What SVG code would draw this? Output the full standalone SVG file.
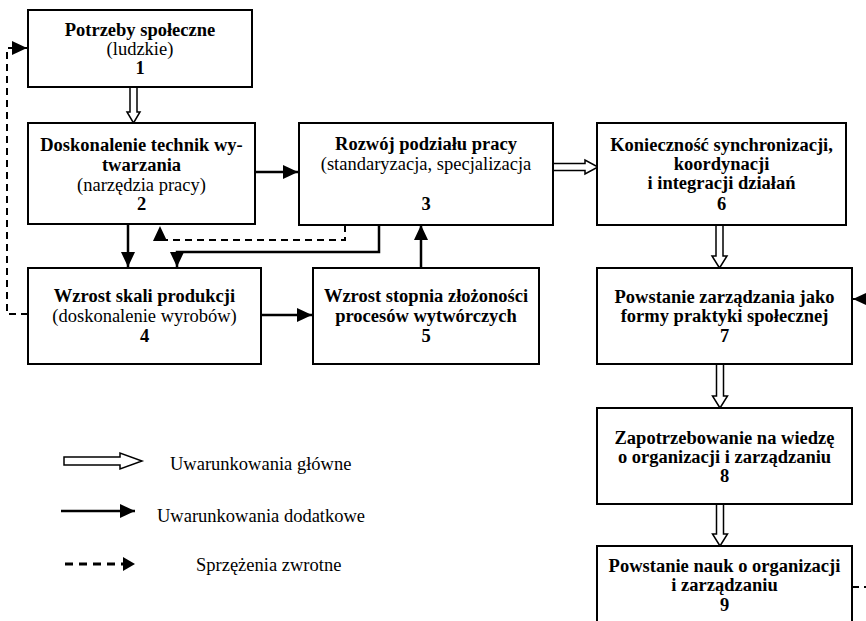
<svg xmlns="http://www.w3.org/2000/svg" width="866" height="621" viewBox="0 0 866 621">
<style>
.box{fill:#fff;stroke:#000;stroke-width:2}
text{font-family:"Liberation Serif","Times New Roman",serif;font-size:18.5px;fill:#000}
.c{text-anchor:middle}
.b{font-weight:bold}
.sl{fill:none;stroke:#000;stroke-width:2.5}
.ds{fill:none;stroke:#000;stroke-width:2;stroke-dasharray:7 5}
.hol{fill:#fff;stroke:#000;stroke-width:1.5;stroke-linejoin:miter}
</style>
<defs>
<marker id="ah" markerUnits="userSpaceOnUse" markerWidth="15" markerHeight="14" refX="15" refY="7" orient="auto">
<path d="M0,0 L15,7 L0,14 z" fill="#000"/>
</marker>
</defs>
<rect width="866" height="621" fill="#fff"/>

<g id="connectors">
<polygon class="hol" points="130,87 137,87 137,112 140,112 133.5,123 127,112 130,112"/>
<polygon class="hol" points="553,163.5 585,163.5 585,160 598,167 585,174 585,170.5 553,170.5"/>
<polygon class="hol" points="716,225 723,225 723,256 727,256 719.5,268 712,256 716,256"/>
<polygon class="hol" points="716.5,364 723.5,364 723.5,396 727.5,396 720,408 712.5,396 716.5,396"/>
<polygon class="hol" points="716.5,504 723.5,504 723.5,534 727.5,534 720,546 712.5,534 716.5,534"/>
<path class="sl" d="M255,172 H298" marker-end="url(#ah)"/>
<path class="sl" d="M128,225 V267" marker-end="url(#ah)"/>
<path class="sl" d="M379,225 V252 H177 V267" marker-end="url(#ah)"/>
<path class="sl" d="M421,268 V225" marker-end="url(#ah)"/>
<path class="sl" d="M261,315 H312" marker-end="url(#ah)"/>
<path class="ds" d="M345,225 V240 H160 V226" marker-end="url(#ah)"/>
<path class="ds" d="M28,314 H7 V48 H27" marker-end="url(#ah)"/>
<path class="ds" d="M852,587 H880 V299 H853" marker-end="url(#ah)"/>
</g>

<g id="n1">
<rect class="box" x="28" y="10" width="224" height="77"/>
<text class="c b" x="140" y="35.5">Potrzeby społeczne</text>
<text class="c" x="140" y="55">(ludzkie)</text>
<text class="c b" x="140" y="74">1</text>
</g>
<g id="n2">
<rect class="box" x="28" y="123" width="227" height="101"/>
<text class="c b" x="141.5" y="150.5">Doskonalenie technik wy-</text>
<text class="c b" x="141.5" y="170.5">twarzania</text>
<text class="c" x="141.5" y="191">(narzędzia pracy)</text>
<text class="c b" x="141.5" y="209.5">2</text>
</g>
<g id="n3">
<rect class="box" x="299" y="123" width="254" height="102"/>
<text class="c b" x="426" y="150">Rozwój podziału pracy</text>
<text class="c" x="426" y="170">(standaryzacja, specjalizacja</text>
<text class="c b" x="426" y="209.5">3</text>
</g>
<g id="n6">
<rect class="box" x="597" y="123" width="249" height="102"/>
<text class="c b" x="721.5" y="151">Konieczność synchronizacji,</text>
<text class="c b" x="721.5" y="170">koordynacji</text>
<text class="c b" x="721.5" y="189">i integracji działań</text>
<text class="c b" x="721.5" y="209.5">6</text>
</g>
<g id="n4">
<rect class="box" x="28" y="268" width="233" height="96"/>
<text class="c b" x="144.5" y="302">Wzrost skali produkcji</text>
<text class="c" x="144.5" y="321.5">(doskonalenie wyrobów)</text>
<text class="c b" x="144.5" y="341.5">4</text>
</g>
<g id="n5">
<rect class="box" x="313" y="268" width="226" height="96"/>
<text class="c b" x="426" y="302">Wzrost stopnia złożoności</text>
<text class="c b" x="426" y="321.5">procesów wytwórczych</text>
<text class="c b" x="426" y="341.5">5</text>
</g>
<g id="n7">
<rect class="box" x="597" y="268" width="255" height="96"/>
<text class="c b" x="724.5" y="302.5">Powstanie zarządzania jako</text>
<text class="c b" x="724.5" y="321.5">formy praktyki społecznej</text>
<text class="c b" x="724.5" y="341.5">7</text>
</g>
<g id="n8">
<rect class="box" x="597" y="408" width="255" height="96"/>
<text class="c b" x="724.5" y="444">Zapotrzebowanie na wiedzę</text>
<text class="c b" x="724.5" y="463">o organizacji i zarządzaniu</text>
<text class="c b" x="724.5" y="482">8</text>
</g>
<g id="n9">
<rect class="box" x="597" y="546" width="255" height="90"/>
<text class="c b" x="724.5" y="572">Powstanie nauk o organizacji</text>
<text class="c b" x="724.5" y="591">i zarządzaniu</text>
<text class="c b" x="724.5" y="611">9</text>
</g>

<g id="legend">
<polygon class="hol" points="64,457 120,457 120,453 142,461 120,469 120,465 64,465"/>
<text x="170" y="470">Uwarunkowania główne</text>
<path class="sl" d="M61,511 H135" marker-end="url(#ah)"/>
<text x="157" y="521.5">Uwarunkowania dodatkowe</text>
<path d="M65,564 H124" fill="none" stroke="#000" stroke-width="3" stroke-dasharray="8 6"/>
<path d="M123,557 L135,564 L123,571 z" fill="#000"/>
<text x="196" y="570.5">Sprzężenia zwrotne</text>
</g>
</svg>
